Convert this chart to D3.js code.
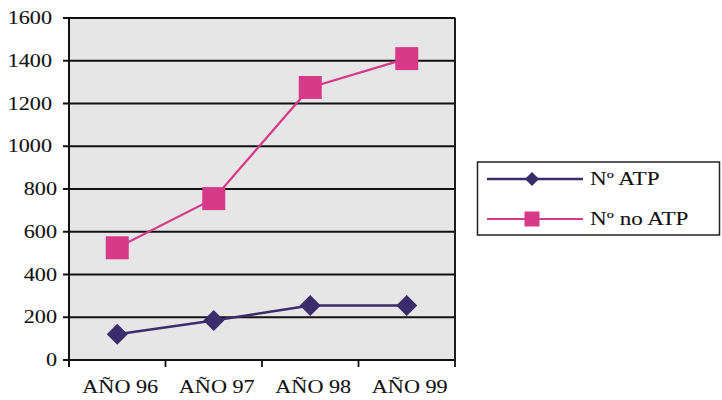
<!DOCTYPE html>
<html><head><meta charset="utf-8">
<script src="https://cdn.jsdelivr.net/npm/d3@7"></script>
<style>body{margin:0;background:#fff}text{font-family:"Liberation Serif","Times New Roman",serif;fill:#111;stroke:#111;stroke-width:0.1px}</style>
</head><body><svg id="c" width="722" height="400"></svg>
<script>
const categories = ["AÑO 96","AÑO 97","AÑO 98","AÑO 99"];
const atp = [120, 185, 255, 255];
const noAtp = [525, 755, 1275, 1410];
const yTicks = [0,200,400,600,800,1000,1200,1400,1600];
const seriesNames = ["Nº ATP","Nº no ATP"];
const colors = ["#3b2c6b","#d63a88"];

const svg = d3.select("#c");
const L=69, R=455, T=18, B=360;
const x = d3.scaleBand().domain(categories).range([L,R]);
const y = d3.scaleLinear().domain([0,1600]).range([B,T]);
const SX = 1.2, FS = 18.5;

svg.append("rect").attr("x",L).attr("y",T).attr("width",R-L).attr("height",B-T)
  .attr("fill","#e6e6e6").attr("stroke","#666").attr("stroke-width",1.5);
svg.append("line").attr("x1",R).attr("x2",R).attr("y1",T).attr("y2",B).attr("stroke","#111").attr("stroke-width",1.8);
svg.selectAll("line.g").data(yTicks.filter(d=>d>0)).join("line").attr("class","g")
  .attr("x1",L-6).attr("x2",R).attr("y1",d=>y(d)).attr("y2",d=>y(d))
  .attr("stroke","#111").attr("stroke-width",1.8);
// axes
svg.append("line").attr("x1",L).attr("x2",L).attr("y1",T).attr("y2",B+6).attr("stroke","#111").attr("stroke-width",2);
svg.append("line").attr("x1",L-6).attr("x2",R).attr("y1",B).attr("y2",B).attr("stroke","#111").attr("stroke-width",2);
svg.selectAll("text.yl").data(yTicks).join("text").attr("class","yl")
  .attr("transform",d=>`translate(${String(d).length>3?52:57},${y(d)+6}) scale(${SX},1)`)
  .attr("text-anchor","end").attr("font-size",FS).text(d=>d);
const xt = categories.map(c=>x(c)).concat([R]);
svg.selectAll("line.xt").data(xt).join("line").attr("class","xt")
  .attr("x1",d=>d).attr("x2",d=>d).attr("y1",B).attr("y2",B+7).attr("stroke","#111").attr("stroke-width",1.8);
svg.selectAll("text.xl").data(categories).join("text").attr("class","xl")
  .attr("transform",d=>`translate(${x(d)+x.bandwidth()/2+3},393) scale(${SX},1)`)
  .attr("text-anchor","middle").attr("font-size",FS).text(d=>d);

const cx = d=>x(d)+x.bandwidth()/2;
const line = d3.line().x((d,i)=>cx(categories[i])).y(d=>y(d));
const diamond = (g, px, py, s) => g.append("path")
  .attr("d",`M${px},${py-s}L${px+s},${py}L${px},${py+s}L${px-s},${py}Z`).attr("fill",colors[0]);
const square = (g, px, py, s) => g.append("rect")
  .attr("x",px-s).attr("y",py-s).attr("width",2*s).attr("height",2*s).attr("fill",colors[1]);

svg.append("path").datum(noAtp).attr("d",line).attr("fill","none").attr("stroke",colors[1]).attr("stroke-width",2.2);
noAtp.forEach((v,i)=>square(svg, cx(categories[i]), y(v), 11.5));
svg.append("path").datum(atp).attr("d",line).attr("fill","none").attr("stroke",colors[0]).attr("stroke-width",2.5);
atp.forEach((v,i)=>diamond(svg, cx(categories[i]), y(v), 10.5));

// legend
const lg = svg.append("g");
lg.append("rect").attr("x",477.5).attr("y",162).attr("width",242).attr("height",73)
  .attr("fill","#fff").attr("stroke","#222").attr("stroke-width",1.5);
const ly = [179, 219];
seriesNames.forEach((n,i)=>{
  lg.append("line").attr("x1",487).attr("x2",583).attr("y1",ly[i]).attr("y2",ly[i])
    .attr("stroke",colors[i]).attr("stroke-width",i===0?2.5:2);
  if(i===0) diamond(lg,532,ly[i],7); else square(lg,532,ly[i],7.5);
  lg.append("text").attr("transform",`translate(590,${ly[i]+6}) scale(1.25,1)`)
    .attr("font-size",FS).text(n);
});
</script></body></html>
